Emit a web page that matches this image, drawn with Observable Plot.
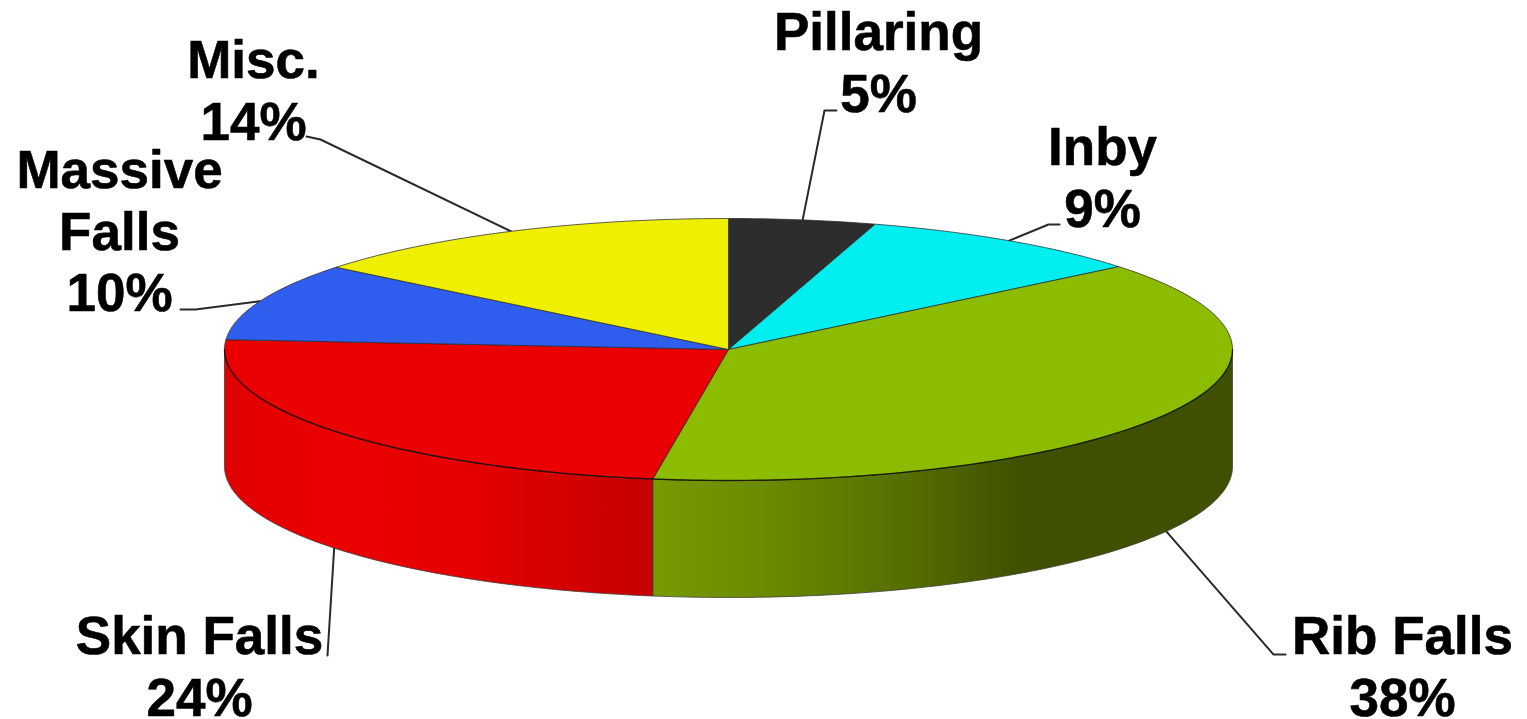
<!DOCTYPE html>
<html>
<head>
<meta charset="utf-8">
<script src="https://cdn.jsdelivr.net/npm/d3@7"></script>
<script src="https://cdn.jsdelivr.net/npm/@observablehq/plot@0.6"></script>
<style>
html,body{margin:0;padding:0;background:#fff;overflow:hidden}
svg{display:block}
</style>
</head>
<body>
<div id="chart"></div>
<script>
// Chart values
const categories = ["Pillaring", "Inby", "Rib Falls", "Skin Falls", "Massive Falls", "Misc."];
const labelLines = ["Pillaring", "Inby", "Rib Falls", "Skin Falls", "Massive\nFalls", "Misc."];
const printedPercent = [5, 9, 38, 24, 10, 14];
const shares = [4.7, 9.4, 38.3, 23.8, 9.6, 14.2];
const topColors = ["#2d2d2d", "#00eef0", "#8cbc00", "#ea0000", "#2f5eef", "#efef00"];

// Layout (reference pixels)
const W = 1527, H = 719;
const CX = 728, CY = 349, RX = 504, RY = 131, DEPTH = 117;
const labelCenterX = [878, 1102, 1402, 199, 119, 253];
const labelFirstBaseline = [43, 158, 647, 647, 181, 71];
const elbows = [
  [[824, 110], [836, 110]],
  [[1048, 224], [1059, 224]],
  [[1273, 654], [1285, 654]],
  [[327, 655]],
  [[195, 309], [180, 309]],
  [[320, 139], [306, 136]]
];
const FONT = 53, LINE = 61.8;

// pie units <-> reference pixels (y up)
const ux = px => (px - CX) / RX;
const uy = py => (CY - py) / RY;
const depthU = DEPTH / RY;

// angle in degrees clockwise from 12 o'clock
const rim = (deg, drop = 0) => {
  const a = deg * Math.PI / 180;
  return {x: Math.sin(a), y: Math.cos(a) - drop};
};
const arc = (a0, a1, drop = 0) => {
  const n = Math.max(2, Math.ceil(Math.abs(a1 - a0)));
  return d3.range(n + 1).map(i => rim(a0 + (a1 - a0) * i / n, drop));
};

const total = d3.sum(shares);
let acc = 0;
const slices = categories.map((name, i) => {
  const a0 = acc / total * 360;
  acc += shares[i];
  const a1 = acc / total * 360;
  return {name, i, a0, a1, mid: (a0 + a1) / 2, color: topColors[i]};
});

const topFace = s => [{x: 0, y: 0}, ...arc(s.a0, s.a1), {x: 0, y: 0}];
const sideFace = s => {
  const a0 = Math.max(s.a0, 90), a1 = Math.min(s.a1, 270);
  const up = arc(a0, a1), down = arc(a0, a1, depthU).reverse();
  return [...up, ...down, up[0]];
};
const visibleSides = slices.filter(s => s.a1 > 90 && s.a0 < 270);

// Side shading
const sideGradients = {
  "Rib Falls": [[0, "#779b00"], [0.2, "#6a8a00"], [0.45, "#546d00"], [0.63, "#3f5100"], [1, "#3f5100"]],
  "Skin Falls": [[0, "#e00000"], [0.25, "#ea0000"], [0.55, "#e60000"], [0.8, "#d40000"], [1, "#c40000"]]
};
const gradId = name => "side-" + name.replace(/\s+/g, "");

const defs = () => {
  const g = d3.create("svg:defs");
  for (const [name, stops] of Object.entries(sideGradients)) {
    const lg = g.append("linearGradient").attr("id", gradId(name))
      .attr("x1", 0).attr("x2", 1).attr("y1", 0).attr("y2", 0);
    for (const [o, c] of stops) lg.append("stop").attr("offset", o).attr("stop-color", c);
  }
  return g.node();
};

// Leaders start on the visible rim at each slice's mid-angle
const leaders = slices.map(s => {
  const lowerHalf = s.mid > 90 && s.mid < 270;
  const start = rim(s.mid, lowerHalf ? depthU : 0);
  return [start, ...elbows[s.i].map(([px, py]) => ({x: ux(px), y: uy(py)}))];
});

const labels = slices.map(s => ({
  text: labelLines[s.i] + "\n" + printedPercent[s.i] + "%",
  x: ux(labelCenterX[s.i]),
  y: uy(labelFirstBaseline[s.i] - 0.71 * FONT)
}));

const chart = Plot.plot({
  width: W, height: H,
  margin: 0,
  x: {domain: [ux(0), ux(W)], axis: null},
  y: {domain: [uy(H), uy(0)], axis: null},
  marks: [
    defs,
    ...leaders.map(l => Plot.line(l, {x: "x", y: "y", stroke: "#2a2a2a", strokeWidth: 2, curve: "linear"})),
    ...visibleSides.map(s => Plot.line(sideFace(s), {
      x: "x", y: "y", fill: `url(#${gradId(s.name)})`, stroke: "#3a3a3a", strokeWidth: 1, strokeOpacity: 0.75, curve: "linear"
    })),
    ...slices.map(s => Plot.line(topFace(s), {
      x: "x", y: "y", fill: s.color, stroke: "#2b2b2b", strokeWidth: 1, strokeOpacity: 0.75, curve: "linear"
    })),
    Plot.line(arc(90, 270), {x: "x", y: "y", stroke: "#000", strokeWidth: 1.4, strokeOpacity: 0.6, curve: "linear"}),
    Plot.text(labels, {
      x: "x", y: "y", text: "text", textAnchor: "middle", lineAnchor: "top",
      fontFamily: "'Liberation Sans', Arial, sans-serif", fontWeight: 700, fontSize: FONT,
      lineHeight: LINE / FONT, fill: "#000", stroke: "#000", strokeWidth: 0.6
    })
  ]
});
document.getElementById("chart").append(chart);
</script>
</body>
</html>
